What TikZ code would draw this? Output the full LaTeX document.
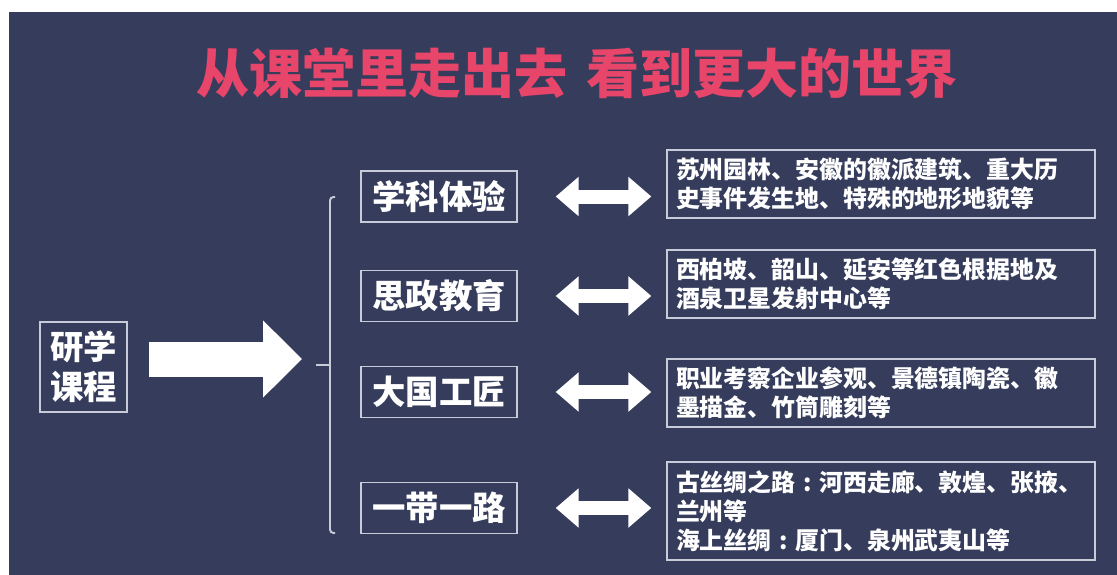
\documentclass[tikz,border=0pt]{standalone}
\usepackage{fontspec}
\setmainfont{Noto Sans CJK SC}
\usetikzlibrary{arrows.meta}

\definecolor{bgblue}{HTML}{363C5C}
\definecolor{titlered}{HTML}{E8456A}
\definecolor{framegray}{HTML}{C8CCD8}

\newcommand{\wcolon}{\makebox[1em][c]{:}}

\tikzset{
  catbox/.style={draw=framegray, line width=.8pt, text=white, minimum width=3.12cm, minimum height=1.02cm, inner sep=0pt, font=\fontsize{19}{22}\selectfont\bfseries},
  descbox/.style={draw=framegray, line width=.8pt, text=white, text width=8.2cm, inner xsep=.18cm, inner ysep=0pt, align=left, font=\fontsize{13.6}{16.4}\selectfont\bfseries},
  dbltip/.tip={Triangle[width=.76cm 0 0, length=.46cm 0 0]},
  bigtip/.tip={Triangle[width=1.5cm 0 0, length=.78cm 0 0]},
  dblarrow/.style={white, line width=.28cm, arrows={dbltip-dbltip}, shorten <=.76cm, shorten >=.3cm},
  bigarrow/.style={white, line width=.7cm, arrows={-bigtip}, shorten <=.42cm, shorten >=.28cm},
}

\begin{document}
\begin{tikzpicture}[x=.02cm, y=-.02cm]
    \fill[white] (0,0) rectangle (1117,575);
    \fill[bgblue] (9,12) rectangle (1117,575);

    \node[text=titlered, font=\fontsize{30.2}{34}\selectfont\bfseries] (title) at (577,73) {从课堂里走出去\hspace{.35em}看到更大的世界};

    \node[draw=framegray, line width=.8pt, text=white, minimum width=1.74cm, minimum height=1.8cm, align=center, font=\fontsize{19}{22.7}\selectfont\bfseries] (src) at (83.5,367) {研学\\课程};

    % bracket
    \coordinate (tick) at (316,365);
    \coordinate (brtop) at (330,197);
    \coordinate (brbot) at (330,533);
    \draw[framegray, line width=1.1pt, rounded corners=2pt] ([xshift=.1cm]brtop) -- (brtop) -- (brbot) -- ([xshift=.1cm]brbot);
    \draw[framegray, line width=1.1pt] (tick) -- (tick -| brtop);

    \draw[bigarrow] ([yshift=.16cm]src.east) -- ([yshift=.16cm]src.east -| tick);

    % categories
    \node[catbox] (c1) at (439,196.5) {学科体验};
    \node[catbox] (c2) at (439,296) {思政教育};
    \node[catbox] (c3) at (439,392) {大国工匠};
    \node[catbox] (c4) at (439,508) {一带一路};

    % descriptions
    \node[descbox, minimum height=1.36cm] (d1) at (881,184) {苏州园林、安徽的徽派建筑、重大历\\史事件发生地、特殊的地形地貌等};
    \node[descbox, minimum height=1.36cm] (d2) at (881,284) {西柏坡、韶山、延安等红色根据地及\\酒泉卫星发射中心等};
    \node[descbox, minimum height=1.36cm] (d3) at (881,393) {职业考察企业参观、景德镇陶瓷、徽\\墨描金、竹筒雕刻等};
    \node[descbox, minimum height=1.96cm] (d4) at (881,511) {古丝绸之路\wcolon 河西走廊、敦煌、张掖、\\兰州等\\海上丝绸\wcolon 厦门、泉州武夷山等};

    \foreach \i in {1,...,4}
        \draw[dblarrow] (c\i.east) -- (c\i.east -| d\i.west);
\end{tikzpicture}
\end{document}
